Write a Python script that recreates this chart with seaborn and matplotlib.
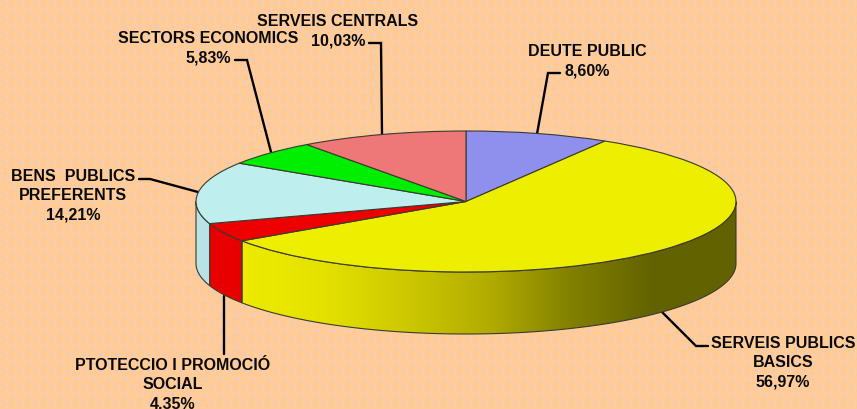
# 3D style budget pie

import numpy as np
import matplotlib
matplotlib.use("Agg")
import matplotlib.pyplot as plt
from matplotlib.patches import Polygon
import seaborn as sns


categories = [
    "DEUTE PUBLIC",
    "SERVEIS PUBLICS\nBASICS",
    "PTOTECCIO I PROMOCIÓ\nSOCIAL",
    "BENS  PUBLICS\nPREFERENTS",
    "SECTORS ECONOMICS",
    "SERVEIS CENTRALS",
]
shares = [8.60, 56.97, 4.35, 14.21, 5.83, 10.03]
share_labels = ["8,60%", "56,97%", "4,35%", "14,21%", "5,83%", "10,03%"]

top_colors = ["#8F8FEE", "#EEEE00", "#EE0000", "#BEEEEE", "#00EE00", "#EE7878"]
wall_colors = [None, None, "#E80000", "#B8E2E6", None, None]
shade_stops = ["#EEEB00", "#E4E100", "#CDC800", "#B2AC00", "#828000", "#626200", "#626200"]

label_centers = [(587, 51.5), (783, 343.5), (173, 365.5), (73, 176.5), (208, 38.5), (338, 21.5)]
leaders = [
    [(537, 135), (548, 74), (560, 74)],
    [(662, 313), (696, 347), (708, 347)],
    [(224, 297), (224, 355)],
    [(198, 193), (150, 180), (139, 180)],
    [(271, 153), (247, 61), (235, 61)],
    [(382, 135), (381, 44), (369, 44)],
]

WIDTH, HEIGHT = 857, 410
CX, CY, RX, RY = 466, 202.5, 270, 70.5
DEPTH = 62 / RY
BACKGROUND = "#FFCC99"
EDGE = "#3A3A30"

sns.set_theme(style="white")
plt.rcParams["font.family"] = ["Liberation Sans", "DejaVu Sans"]

fig = plt.figure(figsize=(WIDTH / 100, HEIGHT / 100), dpi=100, facecolor=BACKGROUND)

# background, leader lines and labels, in pixel coordinates
back = fig.add_axes([0, 0, 1, 1], zorder=0)
back.set_xlim(0, WIDTH)
back.set_ylim(HEIGHT, 0)
back.axis("off")

for row, y in enumerate(np.arange(4, HEIGHT, 8)):
    xs = np.arange(5 + 8 * (row % 2), WIDTH, 16)
    back.scatter(xs, np.full(len(xs), y), s=2, color="#C4CCFF", linewidths=0, marker="s")

for points in leaders:
    xs, ys = zip(*points)
    back.plot(xs, ys, color="black", lw=1.7, solid_joinstyle="miter")

for name, share, (x, y) in zip(categories, share_labels, label_centers):
    lines = name.split("\n") + [share]
    for i, line in enumerate(lines):
        back.text(x, y + i * 19.3, line, ha="center", va="center",
                  fontsize=11.5, fontweight="bold", color="#0A0A0A")

# pie axes: one unit is the pie radius, stretched into an ellipse
ax = fig.add_axes([0, 0, 1, 1], zorder=1)
ax.patch.set_visible(False)

limits = dict(
    xlim=(-CX / RX, (WIDTH - CX) / RX),
    ylim=(-(HEIGHT - CY) / RY, CY / RY),
)

edges = np.cumsum([0] + shares) / sum(shares) * 2 * np.pi


def wall_polygon(start, end):
    # side of the pie below the rim, only where it faces the viewer
    start = max(start, np.pi / 2)
    end = min(end, 3 * np.pi / 2)
    if end <= start:
        return None
    t = np.linspace(start, end, 120)
    x, y = np.sin(t), np.cos(t)
    return np.vstack([
        np.column_stack([x, y]),
        np.column_stack([x[::-1], y[::-1] - DEPTH]),
    ])


for i in range(len(shares)):
    poly = wall_polygon(edges[i], edges[i + 1])
    if poly is None:
        continue
    if wall_colors[i] is not None:
        ax.add_patch(Polygon(poly, closed=True, facecolor=wall_colors[i],
                             edgecolor=EDGE, lw=0.8, zorder=1))
    else:
        # yellow wall gets the dark shading from left to right
        cmap = sns.blend_palette(shade_stops, as_cmap=True)
        gradient = np.linspace(0, 1, 256).reshape(1, -1)
        left = poly[:, 0].min()
        image = ax.imshow(gradient, cmap=cmap, aspect="auto", zorder=1,
                          extent=(left, 1, poly[:, 1].min(), poly[:, 1].max()))
        outline = Polygon(poly, closed=True, facecolor="none",
                          edgecolor=EDGE, lw=0.8, zorder=1.5)
        ax.add_patch(outline)
        image.set_clip_path(outline)

ax.pie(
    shares,
    colors=top_colors,
    startangle=90,
    counterclock=False,
    radius=1,
    wedgeprops={"edgecolor": EDGE, "linewidth": 0.8, "zorder": 2},
)
ax.set_aspect("auto")
ax.set(**limits)
ax.axis("off")

plt.savefig("out.png", dpi=100, facecolor=BACKGROUND)
plt.close()
